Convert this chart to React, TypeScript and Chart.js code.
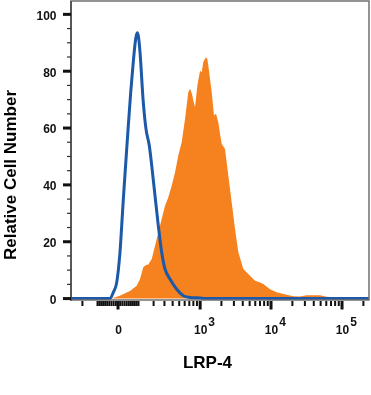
import React, { useEffect, useRef } from 'react';
import { Chart, registerables } from 'chart.js';

Chart.register(...registerables);

// ---- data (x in biexponential display units: asinh(v/140)/ln10) ----
const X_MIN = -0.662;
const X_MAX = 3.535;
const Y_MIN = -0.5;
const Y_MAX = 104.7;

const isotypeX = [
  -0.662, -0.113, -0.066, -0.018, 0.028, 0.052, 0.075, 0.113, 0.145, 0.179, 0.215, 0.249, 0.272,
  0.289, 0.31, 0.356, 0.394, 0.441, 0.475, 0.521, 0.568, 0.615, 0.662, 0.732, 0.827, 0.92, 1.014,
  1.155, 1.225, 3.535,
];
const isotypeY = [
  0, 0, 2.2, 5.7, 16.3, 25.6, 35, 49.1, 60.8, 72.6, 83.2, 91.4, 93.5,
  92, 86.7, 69.1, 59.7, 53.8, 46.8, 36.2, 25.6, 16.3, 10.4, 6.9, 3.3, 1.0, 0.4,
  0.2, 0, 0,
];

const lrp4X = [
  -0.662, -0.085, -0.042, 0.028, 0.099, 0.169, 0.263, 0.31, 0.356, 0.394, 0.427, 0.475, 0.545,
  0.615, 0.662, 0.708, 0.756, 0.803, 0.849, 0.897, 0.944, 0.99, 1.014, 1.042, 1.061, 1.085,
  1.117, 1.155, 1.179, 1.201, 1.225, 1.239, 1.258, 1.272, 1.296, 1.32, 1.352, 1.38, 1.413,
  1.437, 1.461, 1.507, 1.554, 1.601, 1.648, 1.695, 1.765, 1.859, 1.93, 2.0, 2.046, 2.141,
  2.235, 2.328, 2.469, 2.563, 2.657, 2.845, 2.939, 3.056, 3.127, 3.535,
];
const lrp4Y = [
  0, 0, 0.5, 1.0, 1.9, 2.7, 4.5, 6.9, 11.0, 11.8, 12.0, 13.9, 21.0,
  28.0, 32.7, 35.6, 39.7, 44.4, 50.3, 55.0, 63.2, 72.6, 73.8, 72.0, 69.6, 67.3,
  74.9, 80.2, 79.6, 83.2, 84.3, 84.9, 84.3, 82.0, 77.3, 72.6, 64.4, 65.0, 62.0,
  57.9, 54.4, 52.6, 43.2, 33.9, 24.5, 16.3, 10.4, 8.0, 6.3, 5.7, 5.1, 3.3,
  2.2, 1.6, 0.8, 0.7, 1.2, 1.2, 0.6, 0.4, 0, 0,
];

// ---- axis ticks ----
const yMajorTicks = [0, 20, 40, 60, 80, 100];
const yMinorTicks = [5, 10, 15, 25, 30, 35, 45, 50, 55, 65, 70, 75, 85, 90, 95];
const xMajorValues = [0, 1e3, 1e4, 1e5];
const xMajorBase = ['0', '10', '10', '10'];
const xMajorExp = ['', '3', '4', '5'];
const xMinorMultipliers = [1, 2, 3, 4, 5, 6, 7, 8, 9];
const xMinorDecades = [-100, -10, 10, 100, 1000, 10000, 100000];

const xTitle = 'LRP-4';
const yTitle = 'Relative Cell Number';

const ORANGE = '#F5821F';
const BLUE = '#1C59A8';
const FONT = '"Liberation Sans", Arial, sans-serif';

const biex = (v: number) => Math.asinh(v / 140) / Math.LN10;

const axesPlugin = {
  id: 'flowAxes',
  afterDraw(chart: any) {
    const { ctx, chartArea: a, scales } = chart;
    const xs = scales.x;
    const ys = scales.y;
    ctx.save();

    // frame
    ctx.strokeStyle = '#707070';
    ctx.lineWidth = 1.5;
    ctx.strokeRect(a.left, a.top, a.right - a.left, a.bottom - a.top);
    ctx.strokeStyle = '#444';
    ctx.beginPath();
    ctx.moveTo(a.left, a.top);
    ctx.lineTo(a.left, a.bottom + 0.75);
    ctx.stroke();

    // y ticks
    ctx.fillStyle = '#111';
    for (const v of yMajorTicks) {
      const y = ys.getPixelForValue(v);
      ctx.fillRect(a.left - 8, y - 1.5, 8, 3);
    }
    ctx.fillStyle = '#333';
    for (const v of yMinorTicks) {
      const y = ys.getPixelForValue(v);
      ctx.fillRect(a.left - 4, y - 0.6, 4, 1.2);
    }
    ctx.font = `bold 12px ${FONT}`;
    ctx.fillStyle = '#111';
    ctx.textAlign = 'right';
    ctx.textBaseline = 'middle';
    for (const v of yMajorTicks) {
      const y = ys.getPixelForValue(v);
      ctx.fillText(String(v), a.left - 14.5, y + 2);
    }

    // x ticks
    const minorVals: number[] = [];
    for (const d of xMinorDecades) {
      for (const m of xMinorMultipliers) {
        const v = m * d;
        if (xMajorValues.includes(v)) continue;
        const t = biex(v);
        if (t > X_MIN + 0.02 && t < X_MAX - 0.01) minorVals.push(t);
      }
    }
    ctx.fillStyle = '#111';
    for (const t of minorVals) {
      const x = xs.getPixelForValue(t);
      ctx.fillRect(x - 1, a.bottom + 1, 2, 5);
    }
    xMajorValues.forEach((v) => {
      const x = xs.getPixelForValue(biex(v));
      ctx.fillRect(x - 1.5, a.bottom + 1, 3, 8.5);
    });

    // x labels
    ctx.textBaseline = 'alphabetic';
    xMajorValues.forEach((v, i) => {
      const x = xs.getPixelForValue(biex(v));
      ctx.font = `bold 12px ${FONT}`;
      ctx.textAlign = 'center';
      const base = xMajorBase[i];
      ctx.fillText(base, x + 0.5, a.bottom + 33.5);
      if (xMajorExp[i]) {
        const w = ctx.measureText(base).width;
        ctx.textAlign = 'left';
        ctx.fillText(xMajorExp[i], x + 0.5 + w / 2 + 1, a.bottom + 25.5);
      }
    });

    // titles
    ctx.font = `bold 17px ${FONT}`;
    ctx.fillStyle = '#000';
    ctx.textAlign = 'center';
    ctx.textBaseline = 'alphabetic';
    ctx.fillText(xTitle, (a.left + a.right) / 2 - 12.5, a.bottom + 68);

    ctx.save();
    ctx.translate(16, (a.top + a.bottom) / 2 + 24.5);
    ctx.rotate(-Math.PI / 2);
    ctx.fillText(yTitle, 0, 0);
    ctx.restore();

    ctx.restore();
  },
};

export default function App() {
  const ref = useRef<HTMLCanvasElement>(null);

  useEffect(() => {
    const canvas = ref.current;
    if (!canvas) return;
    const chart = new Chart(canvas, {
      type: 'line',
      data: {
        datasets: [
          {
            label: 'Isotype',
            data: isotypeX.map((x, i) => ({ x, y: isotypeY[i] })),
            borderColor: BLUE,
            borderWidth: 3,
            pointRadius: 0,
            fill: false,
            cubicInterpolationMode: 'monotone',
            order: 0,
          },
          {
            label: 'LRP-4',
            data: lrp4X.map((x, i) => ({ x, y: lrp4Y[i] })),
            borderWidth: 0,
            borderColor: ORANGE,
            backgroundColor: ORANGE,
            pointRadius: 0,
            fill: 'origin',
            tension: 0,
            order: 1,
          },
        ],
      },
      options: {
        animation: false,
        responsive: false,
        devicePixelRatio: 1,
        layout: { padding: { top: 1, right: 2, left: 0, bottom: 0 } },
        plugins: { legend: { display: false }, tooltip: { enabled: false } },
        scales: {
          x: {
            type: 'linear',
            min: X_MIN,
            max: X_MAX,
            ticks: { display: false },
            grid: { display: false, drawTicks: false },
            border: { display: false },
            afterFit: (s: any) => {
              s.height = 95;
            },
          },
          y: {
            type: 'linear',
            min: Y_MIN,
            max: Y_MAX,
            ticks: { display: false },
            grid: { display: false, drawTicks: false },
            border: { display: false },
            afterFit: (s: any) => {
              s.width = 71;
            },
          },
        },
      } as any,
      plugins: [axesPlugin],
    });
    return () => chart.destroy();
  }, []);

  return (
    <div style={{ position: 'absolute', left: 0, top: 0, width: 371, height: 395, background: '#fff' }}>
      <canvas ref={ref} width={371} height={395} style={{ display: 'block', width: 371, height: 395 }} />
    </div>
  );
}
